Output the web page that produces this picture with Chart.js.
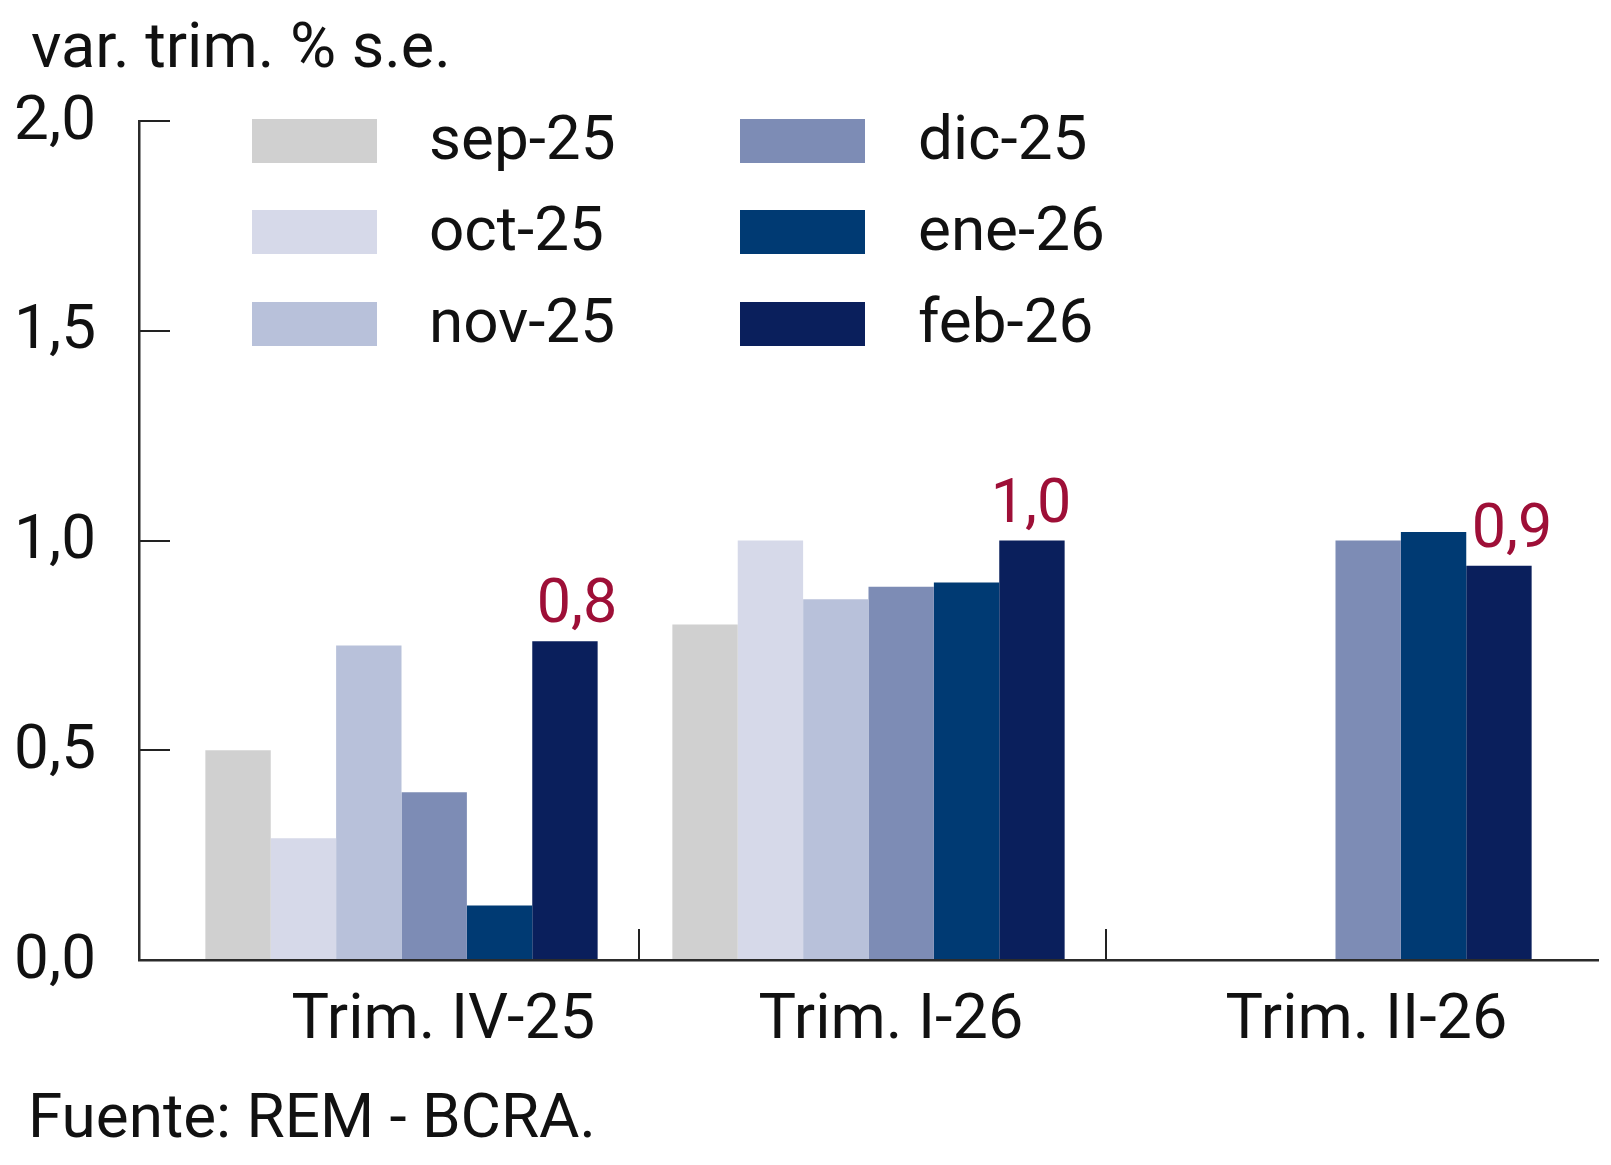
<!DOCTYPE html>
<html>
<head>
<meta charset="utf-8">
<script src="https://cdn.jsdelivr.net/npm/chart.js@4.4.1/dist/chart.umd.min.js"></script>
<style>
html, body { margin: 0; padding: 0; background: #ffffff; }
canvas { display: block; }
</style>
</head>
<body>
<canvas id="c" width="1611" height="1165"></canvas>
<script>
// ---- data ----
const categories = ['Trim. IV-25', 'Trim. I-26', 'Trim. II-26'];
const seriesNames = ['sep-25', 'oct-25', 'nov-25', 'dic-25', 'ene-26', 'feb-26'];
const sep25 = [0.50, 0.80, null];
const oct25 = [0.29, 1.00, null];
const nov25 = [0.75, 0.86, null];
const dic25 = [0.40, 0.89, 1.00];
const ene26 = [0.13, 0.90, 1.02];
const feb26 = [0.76, 1.00, 0.94];
const yTicks = [0, 0.5, 1.0, 1.5, 2.0];
const titleText = 'var. trim. % s.e.';
const sourceText = 'Fuente: REM - BCRA.';

const seriesValues = [sep25, oct25, nov25, dic25, ene26, feb26];
const seriesColors = ['#d0d0d0', '#d6d9e9', '#b8c1da', '#7d8cb5', '#003a73', '#0a1f5c'];

// ---- layout constants ----
const W = 1611, H = 1165;
const PLOT_L = 139, PLOT_R = 1598, PLOT_T = 121, PLOT_B = 960;
const BAND_L = 168, BAND_R = 1569;     // pixel extent of the bar bands
const SEP_L = 172, SEP_R = 1573;       // pixel extent of the separator bands
const FONT = 'Roboto, "Noto Sans", sans-serif';
const fmt = v => v.toFixed(1).replace('.', ',');

function bandMapper(bandL, bandR) {
  return (scale) => {
    const n = scale.getLabels().length;
    const R = n * (PLOT_R - PLOT_L) / (bandR - bandL);
    scale._valueRange = R;
    scale._startValue = -0.5 - (bandL - PLOT_L) * R / (PLOT_R - PLOT_L);
  };
}
function noPad(scale) {
  scale.paddingLeft = 0; scale.paddingRight = 0;
  scale.paddingTop = 0; scale.paddingBottom = 0;
}

const whiteBg = {
  id: 'whiteBg',
  beforeDraw(chart) {
    const c = chart.ctx;
    c.save();
    c.fillStyle = '#ffffff';
    c.fillRect(0, 0, chart.width, chart.height);
    c.restore();
  }
};

const valueLabels = {
  id: 'valueLabels',
  afterDatasetsDraw(chart, args, opts) {
    const idx = chart.data.datasets.length - 1;
    const meta = chart.getDatasetMeta(idx);
    const c = chart.ctx;
    c.save();
    c.font = opts.size + 'px ' + FONT;
    c.fillStyle = opts.color;
    c.textAlign = 'center';
    c.textBaseline = 'alphabetic';
    meta.data.forEach((bar, i) => {
      const v = chart.data.datasets[idx].data[i];
      if (v === null || v === undefined) return;
      c.fillText(fmt(v), bar.x + (opts.dx[i] || 0), bar.y + opts.dy);
    });
    c.restore();
  }
};

const decorations = {
  id: 'decorations',
  afterDraw(chart) {
    const c = chart.ctx;
    c.save();
    c.fillStyle = '#111111';
    c.textAlign = 'left';
    c.textBaseline = 'alphabetic';
    c.font = '63px ' + FONT;
    c.fillText(titleText, 31, 67);
    c.font = '62px ' + FONT;
    c.fillText(sourceText, 28, 1137);

    // legend: two columns of three
    const ds = chart.data.datasets;
    const colBox = [252, 740];
    const colText = [429, 918];
    const rowY = [141, 232, 324];
    c.textBaseline = 'middle';
    ds.forEach((d, i) => {
      const col = Math.floor(i / 3), row = i % 3;
      c.fillStyle = d.backgroundColor;
      c.fillRect(colBox[col], rowY[row] - 22, 125, 44);
      c.fillStyle = '#111111';
      c.fillText(d.label, colText[col], rowY[row] + 2);
    });
    c.restore();
  }
};

const datasets = seriesNames.map((name, i) => ({
  label: name,
  data: seriesValues[i],
  xAxisID: 'x',
  yAxisID: 'y',
  backgroundColor: seriesColors[i],
  borderWidth: 0,
  categoryPercentage: 0.84,
  barPercentage: 1.0
}));

new Chart(document.getElementById('c'), {
  type: 'bar',
  data: { labels: categories, datasets: datasets },
  plugins: [whiteBg, valueLabels, decorations],
  options: {
    responsive: false,
    devicePixelRatio: 1,
    animation: false,
    layout: { padding: { left: 0, top: PLOT_T, right: W - PLOT_R, bottom: 0 } },
    plugins: {
      legend: { display: false },
      tooltip: { enabled: false },
      title: { display: false },
      valueLabels: { size: 61, color: '#9e0f37', dx: [12, -1, 13], dy: -19 }
    },
    scales: {
      x: {
        type: 'category',
        position: 'bottom',
        offset: true,
        weight: 0,
        afterBuildTicks: bandMapper(BAND_L, BAND_R),
        afterFit: (scale) => { scale.height = H - PLOT_B; noPad(scale); },
        grid: { display: false, offset: true, drawTicks: false, tickLength: 0 },
        border: { display: true, color: '#2b2b2b', width: 2.5 },
        ticks: {
          autoSkip: false,
          maxRotation: 0,
          minRotation: 0,
          align: 'start',
          padding: 24,
          labelOffset: -110,
          color: '#111111',
          font: { family: FONT, size: 63 }
        }
      },
      xSep: {
        type: 'category',
        axis: 'x',
        position: 'bottom',
        offset: true,
        weight: -1,
        afterBuildTicks: bandMapper(SEP_L, SEP_R),
        afterFit: (scale) => { scale.height = 0; noPad(scale); },
        grid: {
          display: true,
          offset: true,
          drawOnChartArea: false,
          drawTicks: true,
          tickLength: -31,
          lineWidth: 2,
          color: (ctx) => (ctx.index > 0 && ctx.index < categories.length) ? '#222222' : 'rgba(0,0,0,0)'
        },
        border: { display: false },
        ticks: { display: false }
      },
      y: {
        position: 'left',
        min: 0,
        max: 2,
        afterBuildTicks: (scale) => { scale.ticks = yTicks.map(v => ({ value: v })); },
        afterFit: (scale) => { scale.width = PLOT_L; },
        grid: {
          display: true,
          drawOnChartArea: false,
          drawTicks: true,
          tickLength: -31,
          lineWidth: 2,
          color: '#222222'
        },
        border: { display: true, color: '#2b2b2b', width: 2.5 },
        ticks: {
          padding: 74,
          labelOffset: 2,
          color: '#111111',
          font: { family: FONT, size: 62 },
          callback: (v) => fmt(v)
        }
      }
    }
  }
});
</script>
</body>
</html>
